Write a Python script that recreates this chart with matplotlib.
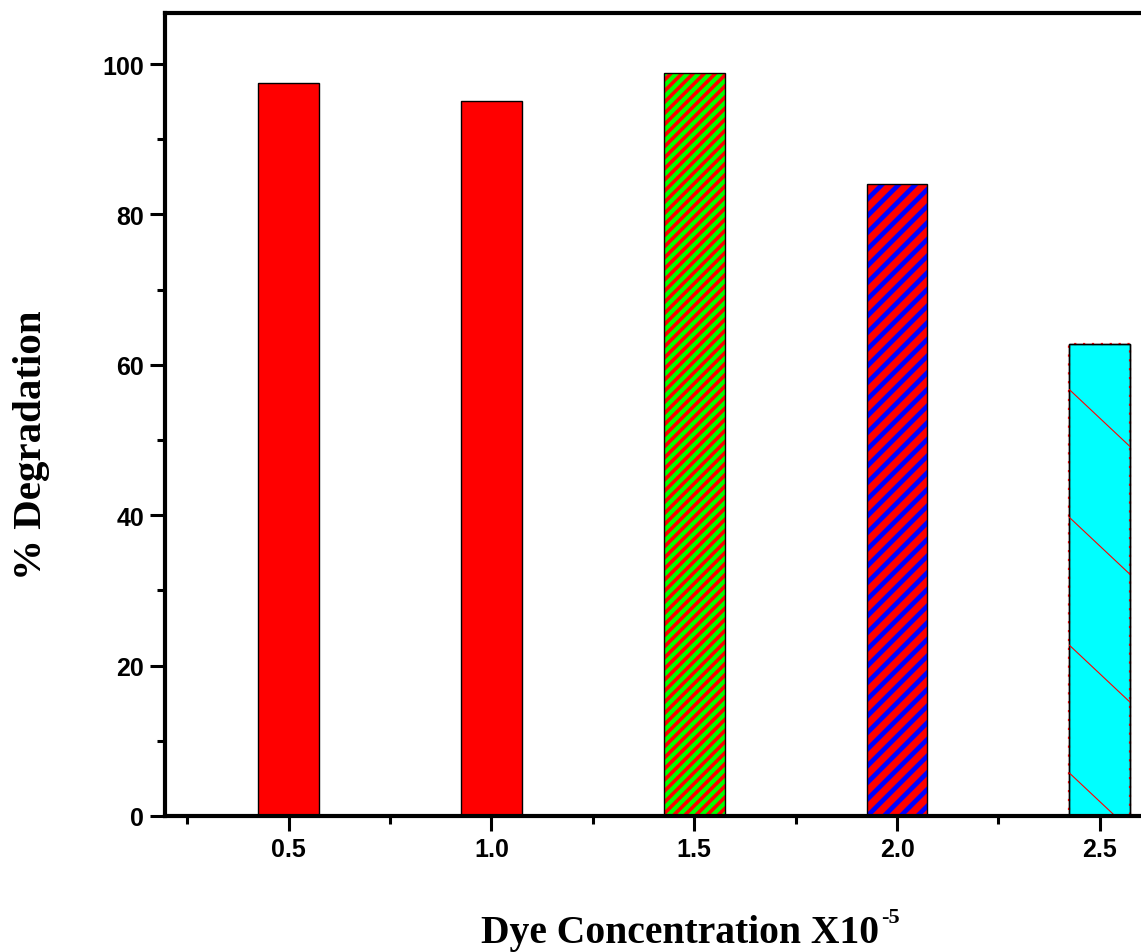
import numpy as np
import matplotlib as mpl
import matplotlib.pyplot as plt
from matplotlib.ticker import MultipleLocator

# Dye concentration (x1e-5) and degradation (%)
conc = [0.5, 1.0, 1.5, 2.0, 2.5]
degradation = [97.5, 95.1, 98.8, 84.0, 62.8]

face_colors = ["#ff0000", "#ff0000", "#00ff00", "#ff0000", "#00ffff"]
hatch_styles = [None, None, "///", "//", None]
hatch_colors = [None, None, "#ff0000", "#0000ff", None]
hatch_widths = [None, None, 2.6, 3.4, None]

bar_width = 0.15

fig = plt.figure(figsize=(11.41, 9.53), dpi=100)
ax = fig.add_axes([0.1446, 0.1428, 0.862, 0.8425])

for x, y, fc, h, hc, hw in zip(conc, degradation, face_colors, hatch_styles,
                                hatch_colors, hatch_widths):
    if h:
        with mpl.rc_context({"hatch.linewidth": hw}):
            b = ax.bar(x, y, width=bar_width, color=fc, edgecolor=hc, hatch=h,
                       linewidth=0)[0]
            if hasattr(b, "set_hatch_linewidth"):
                b.set_hatch_linewidth(hw)
    else:
        ax.bar(x, y, width=bar_width, color=fc, linewidth=0)
    # black outline on top
    ax.bar(x, y, width=bar_width, fill=False, edgecolor="black", linewidth=1.0)

# sparse backslash lines on the last bar, clipped to the bar
last = ax.patches[-2]
x0, x1 = conc[-1] - bar_width / 2, conc[-1] + bar_width / 2
top = degradation[-1]
drop = 7.6  # y drop across the bar width
for start in np.arange(top - 6.1, -12, -17.0):
    ln, = ax.plot([x0, x1], [start, start - drop], color="red", lw=0.8)
    ln.set_clip_path(last)
ax.bar(conc[-1], top, width=bar_width, fill=False, edgecolor="red",
       linewidth=1.6, linestyle=(0, (1, 3)))
ax.bar(conc[-1], top, width=bar_width, fill=False, edgecolor="black", linewidth=1.0)

ax.set_xlim(0.195, 2.62)
ax.set_ylim(0, 106.8)

ax.xaxis.set_minor_locator(MultipleLocator(0.25))
ax.yaxis.set_major_locator(MultipleLocator(20))
ax.yaxis.set_minor_locator(MultipleLocator(10))
ax.set_xticks(conc)
ax.set_xticklabels([f"{c:.1f}" for c in conc])

ax.tick_params(which="major", direction="out", length=11, width=2.2, pad=4)
ax.tick_params(which="minor", direction="out", length=6, width=2.2)
for lab in ax.get_xticklabels() + ax.get_yticklabels():
    lab.set_fontfamily("Liberation Sans")
    lab.set_fontweight("bold")
    lab.set_fontsize(18)

for s in ax.spines.values():
    s.set_linewidth(3)

ax.set_xlabel("Dye Concentration X10", fontsize=28.5,
              fontfamily="Liberation Serif", fontweight="bold")
ax.xaxis.set_label_coords(0.524, -0.122)
ax.annotate("-5", xy=(1.0, 1.0), xycoords=ax.xaxis.label,
            xytext=(1, 5), textcoords="offset points", ha="left", va="top",
            fontsize=16, fontfamily="Liberation Serif", fontweight="bold")

ax.set_ylabel("% Degradation", fontsize=29.5, fontfamily="Liberation Serif",
              fontweight="bold")
ax.yaxis.set_label_coords(-0.117, 0.463)

fig.savefig("out.png", dpi=100)
